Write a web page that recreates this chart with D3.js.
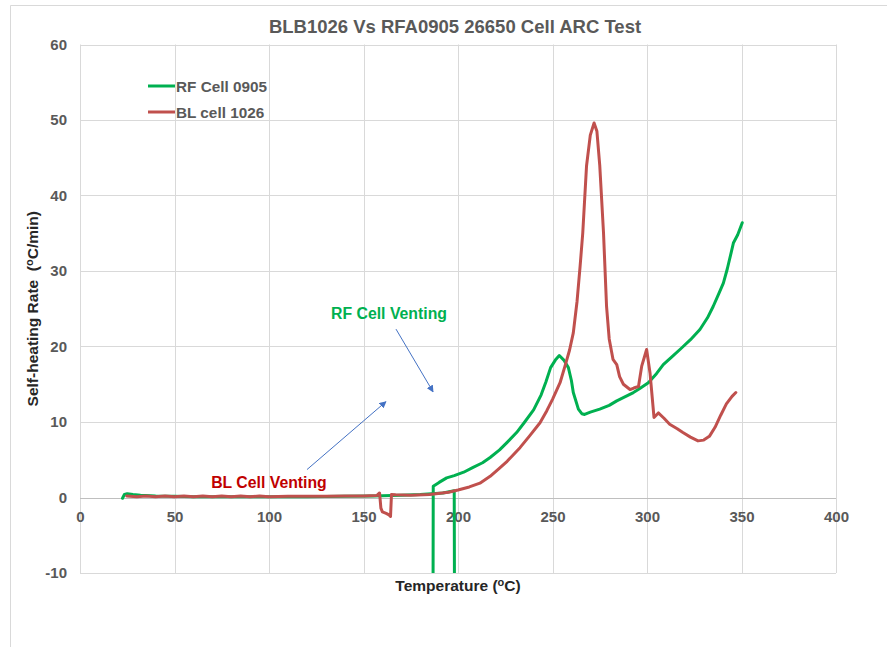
<!DOCTYPE html>
<html>
<head>
<meta charset="utf-8">
<script src="https://cdn.jsdelivr.net/npm/d3@7"></script>
<style>
  html, body { margin: 0; padding: 0; background: #fff; }
  svg { display: block; font-family: "Liberation Sans", Arial, sans-serif; }
  text { white-space: pre; }
</style>
</head>
<body>
<svg id="chart" width="888" height="647"></svg>
<script>
// ARC self-heating rate vs temperature for two 26650 cells
const chartTitle = "BLB1026 Vs RFA0905 26650 Cell ARC Test";
const seriesNames = ["RF Cell 0905", "BL cell 1026"];
const xTicks = [0, 50, 100, 150, 200, 250, 300, 350, 400];
const yTicks = [-10, 0, 10, 20, 30, 40, 50, 60];

// RF cell: [temperature °C, rate °C/min]; the vent drops far below the axis
const rfCell = [
  [22.5, -0.1], [23.5, 0.4], [25, 0.5], [28, 0.4], [32, 0.3], [40, 0.2], [50, 0.15],
  [60, 0.1], [80, 0.1], [100, 0.1], [120, 0.1], [140, 0.15], [155, 0.2], [170, 0.3],
  [180, 0.4], [186, 0.5], [192, 0.6], [198, 0.9], [198.4, -40], [186.6, -40],
  [186.9, 1.5], [190, 2.0], [194, 2.6], [198, 2.9], [203, 3.35], [208, 4.0],
  [213, 4.6], [217, 5.3], [222, 6.3], [226, 7.3], [231, 8.6], [235, 9.9],
  [240, 11.6], [244, 13.6], [246.5, 15.3], [249, 17.2], [251.5, 18.2], [253.6, 18.8],
  [256, 18.2], [258.4, 17.2], [260, 15.5], [261, 13.9], [263.7, 11.7], [265.5, 11.1],
  [267, 11.0], [270, 11.3], [275, 11.7], [280, 12.2], [284, 12.8], [288, 13.3],
  [292.8, 13.9], [296, 14.4], [300.7, 15.2], [305, 16.4], [308.6, 17.6], [313, 18.6],
  [318.3, 19.8], [323, 20.9], [328, 22.25], [332, 23.8], [335, 25.3], [338, 27.0],
  [340.4, 28.4], [342.5, 30.3], [344.5, 32.4], [345.7, 33.7], [348, 34.8], [350.4, 36.4]
];

// BL cell: [temperature °C, rate °C/min]
const blCell = [
  [24.7, 0.2], [30, 0.1], [35, 0.2], [40, 0.1], [45, 0.2], [50, 0.1], [55, 0.2],
  [60, 0.1], [65, 0.2], [70, 0.1], [75, 0.2], [80, 0.1], [85, 0.2], [90, 0.1],
  [95, 0.2], [100, 0.1], [110, 0.15], [120, 0.15], [130, 0.15], [140, 0.2],
  [150, 0.2], [157, 0.25], [158.5, 0.6], [159.2, -1.4], [160, -1.9], [162, -2.1],
  [163.5, -2.3], [164.3, -2.5], [164.8, 0.4], [167, 0.35], [175, 0.3], [185, 0.4],
  [195, 0.7], [200, 1.0], [206, 1.4], [211.6, 1.9], [217, 2.8], [222, 3.9],
  [226, 4.8], [232.8, 6.6], [238, 8.2], [243.4, 9.9], [247, 11.5], [250, 13.0],
  [254, 15.2], [256.6, 17.4], [259, 19.5], [261, 21.8], [263, 26], [264.6, 30.6],
  [266, 35], [268, 43.9], [270, 48], [272, 49.6], [273.5, 48.5], [275, 44],
  [277, 35], [278.6, 25.3], [280, 21], [282, 18.3], [284, 17.6], [285.5, 16],
  [287.5, 15], [291, 14.3], [293, 14.5], [295.5, 14.7], [297.2, 17.4], [299.8, 19.6],
  [301.6, 16.5], [303.7, 10.6], [306, 11.2], [309, 10.5], [312, 9.7], [316, 9.1],
  [319, 8.6], [323, 8.0], [327, 7.5], [330, 7.6], [333, 8.1], [336, 9.3],
  [339, 10.9], [342, 12.4], [345, 13.4], [347, 13.9]
];

// callouts: label position and arrow start/end, in data units
const callouts = [
  { text: "RF Cell Venting", color: "#00B050", at: [163.5, 24.4],
    from: [167.2, 22.3], to: [186.8, 14.0] },
  { text: "BL Cell Venting", color: "#C00000", at: [100, 2.0],
    from: [120.1, 3.7], to: [161.9, 12.7] }
];

const colors = ["#00B050", "#C0504D"];

const svg = d3.select("#chart");
const plot = { left: 80, right: 836, top: 44.5, bottom: 573 };

const x = d3.scaleLinear().domain([0, 400]).range([plot.left, plot.right]);
const y = d3.scaleLinear().domain([-10, 60]).range([plot.bottom, plot.top]);

// outer chart frame (left and top edges)
svg.append("path")
  .attr("d", "M10.5,647 V5.5 H887")
  .attr("fill", "none").attr("stroke", "#D9D9D9").attr("stroke-width", 1);

// title
svg.append("text")
  .attr("x", 455).attr("y", 33)
  .attr("text-anchor", "middle")
  .attr("font-size", 18.5).attr("font-weight", "bold").attr("fill", "#595959")
  .text(chartTitle);

// grid
const grid = svg.append("g");
grid.selectAll("line.v").data(xTicks).join("line")
  .attr("x1", d => Math.round(x(d)) + 0.5).attr("x2", d => Math.round(x(d)) + 0.5)
  .attr("y1", plot.top).attr("y2", plot.bottom)
  .attr("stroke", "#D9D9D9").attr("stroke-width", 1);
grid.selectAll("line.h").data(yTicks).join("line")
  .attr("x1", plot.left).attr("x2", plot.right)
  .attr("y1", d => Math.round(y(d)) + 0.5).attr("y2", d => Math.round(y(d)) + 0.5)
  .attr("stroke", d => d === 0 ? "#BFBFBF" : "#D9D9D9").attr("stroke-width", 1);

// axes built from d3 axis generators, lines hidden
const plainNumber = d => String(d);
const xAxis = svg.append("g")
  .attr("transform", `translate(0,${y(0)})`)
  .call(d3.axisBottom(x).tickValues(xTicks).tickFormat(plainNumber).tickSize(0).tickPadding(14));
const yAxis = svg.append("g")
  .attr("transform", `translate(${plot.left},0)`)
  .call(d3.axisLeft(y).tickValues(yTicks).tickFormat(plainNumber).tickSize(0).tickPadding(13));
[xAxis, yAxis].forEach(g => {
  g.select(".domain").remove();
  g.selectAll("text")
    .attr("font-family", "'Liberation Sans', Arial, sans-serif")
    .attr("font-size", 15).attr("font-weight", "bold").attr("fill", "#595959");
});

// axis titles
const xTitle = svg.append("text")
  .attr("x", 458).attr("y", 591)
  .attr("text-anchor", "middle")
  .attr("font-size", 15.5).attr("font-weight", "bold").attr("fill", "#262626");
xTitle.append("tspan").text("Temperature (");
xTitle.append("tspan").attr("font-size", 11).attr("dy", -5).text("o");
xTitle.append("tspan").attr("dy", 5).text("C)");

const yTitle = svg.append("text")
  .attr("transform", `translate(38,${(plot.top + plot.bottom) / 2}) rotate(-90)`)
  .attr("text-anchor", "middle")
  .attr("font-size", 15.5).attr("font-weight", "bold").attr("fill", "#262626");
yTitle.append("tspan").text("Self-heating Rate  (");
yTitle.append("tspan").attr("font-size", 11).attr("dy", -5).text("o");
yTitle.append("tspan").attr("dy", 5).text("C/min)");

// series lines, clipped to the plot area
svg.append("clipPath").attr("id", "plotClip")
  .append("rect")
  .attr("x", plot.left).attr("y", plot.top)
  .attr("width", plot.right - plot.left).attr("height", plot.bottom - plot.top);

const line = d3.line().x(d => x(d[0])).y(d => y(d[1])).curve(d3.curveLinear);
const lines = svg.append("g").attr("clip-path", "url(#plotClip)");
[rfCell, blCell].forEach((data, i) => {
  lines.append("path")
    .datum(data)
    .attr("d", line)
    .attr("fill", "none")
    .attr("stroke", colors[i])
    .attr("stroke-width", 3)
    .attr("stroke-linejoin", "round")
    .attr("stroke-linecap", "round");
});

// legend
const legend = svg.append("g");
seriesNames.forEach((name, i) => {
  const ly = 86 + i * 26;
  legend.append("line")
    .attr("x1", 148).attr("x2", 175).attr("y1", ly).attr("y2", ly)
    .attr("stroke", colors[i]).attr("stroke-width", 3);
  legend.append("text")
    .attr("x", 176).attr("y", ly + 5.5)
    .attr("font-size", 15.3).attr("font-weight", "bold").attr("fill", "#595959")
    .text(name);
});

// callout arrows and labels
svg.append("defs").append("marker")
  .attr("id", "arrowHead")
  .attr("viewBox", "0 0 10 10")
  .attr("refX", 9).attr("refY", 5)
  .attr("markerWidth", 7).attr("markerHeight", 7)
  .attr("markerUnits", "userSpaceOnUse")
  .attr("orient", "auto")
  .append("path").attr("d", "M0,0 L10,5 L0,10 z").attr("fill", "#4472C4");

callouts.forEach(c => {
  svg.append("line")
    .attr("x1", x(c.from[0])).attr("y1", y(c.from[1]))
    .attr("x2", x(c.to[0])).attr("y2", y(c.to[1]))
    .attr("stroke", "#4472C4").attr("stroke-width", 1)
    .attr("marker-end", "url(#arrowHead)");
  svg.append("text")
    .attr("x", x(c.at[0])).attr("y", y(c.at[1]) + 5.5)
    .attr("text-anchor", "middle")
    .attr("font-size", 15.8).attr("font-weight", "bold").attr("fill", c.color)
    .text(c.text);
});
</script>
</body>
</html>
